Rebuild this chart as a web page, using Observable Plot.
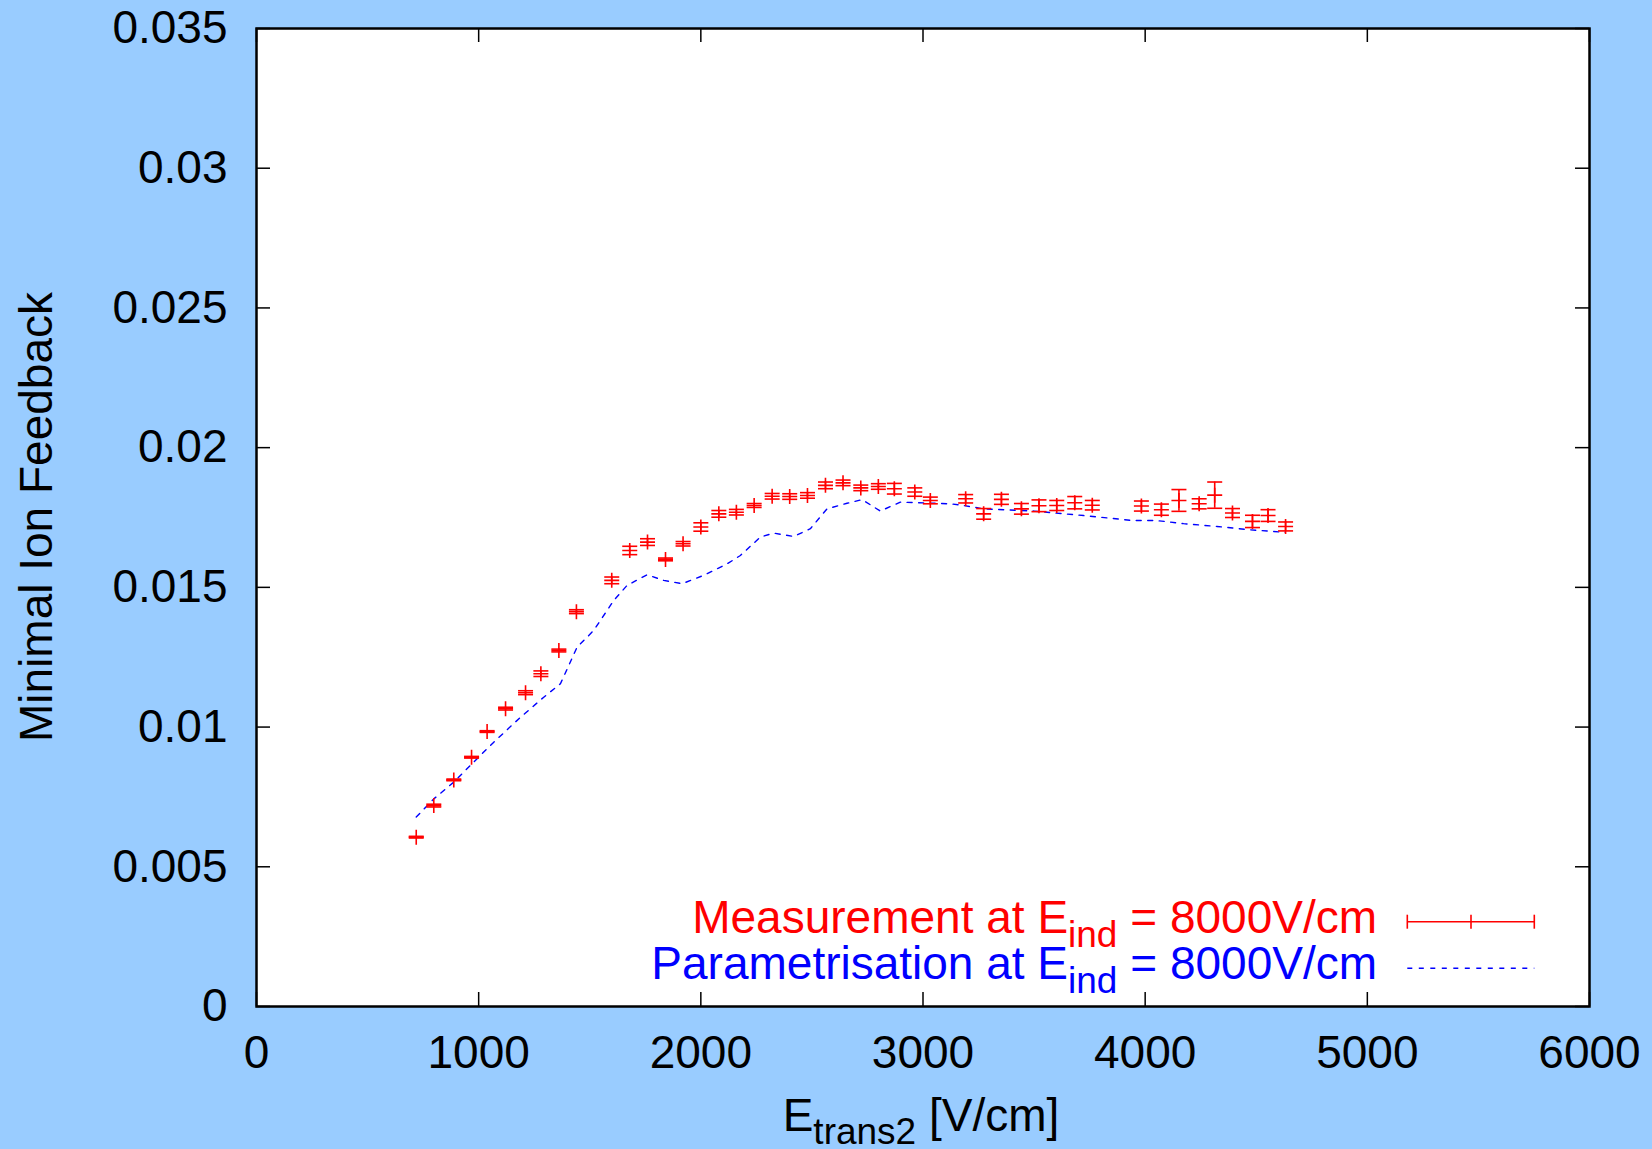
<!DOCTYPE html>
<html>
<head>
<meta charset="utf-8">
<script src="https://cdn.jsdelivr.net/npm/d3@7"></script>
<script src="https://cdn.jsdelivr.net/npm/@observablehq/plot@0.6"></script>
<style>
  html, body { margin: 0; padding: 0; background: #99ccff; }
  #chart { width: 1652px; height: 1149px; }
</style>
</head>
<body>
<div id="chart"></div>
<script>
// ---- data ----
const measX = [719, 798, 888, 968, 1038, 1121, 1211, 1280, 1361, 1440, 1599, 1680, 1760, 1841, 1920, 2000, 2081, 2160, 2240, 2321, 2400, 2480, 2561, 2640, 2720, 2799,
  2871, 2963, 3033, 3192, 3273, 3353, 3443, 3522, 3602, 3683, 3762, 3983, 4073, 4152, 4243, 4313, 4393, 4483, 4553, 4632];
const measY = [0.00606, 0.00719, 0.00811, 0.00892, 0.00984, 0.01066, 0.01123, 0.01191, 0.01274, 0.01413, 0.01525, 0.01632, 0.01662, 0.01600, 0.01656, 0.01716, 0.01763, 0.01769, 0.01793, 0.01826, 0.01825, 0.01829, 0.01865, 0.01874, 0.01856, 0.01861,
  0.01853, 0.01841, 0.01811, 0.01817, 0.01763, 0.01815, 0.01781, 0.01792, 0.01793, 0.01803, 0.01794, 0.01791, 0.01778, 0.01811, 0.01799, 0.01830, 0.01766, 0.01736, 0.01757, 0.01718];
const measErr = [0.00003, 0.00005, 0.00003, 0.00003, 0.00003, 0.00005, 0.00007, 0.00010, 0.00005, 0.00007, 0.00012, 0.00015, 0.00012, 0.00005, 0.00008, 0.00015, 0.00012, 0.00010, 0.00007, 0.00010, 0.00010, 0.00010, 0.00012, 0.00010, 0.00010, 0.00010,
  0.00019, 0.00015, 0.00012, 0.00015, 0.00019, 0.00018, 0.00019, 0.00021, 0.00018, 0.00022, 0.00017, 0.00018, 0.00020, 0.00039, 0.00018, 0.00047, 0.00016, 0.00022, 0.00021, 0.00016];

const paramX = [719, 798, 888, 993, 1068, 1188, 1293, 1368, 1443, 1518, 1608, 1668, 1758, 1833, 1916, 2013, 2118, 2178, 2268, 2328, 2418, 2493, 2568, 2658, 2726, 2808, 2898, 3123, 3183, 3273, 3498, 3723, 3948, 4053, 4173, 4323, 4473, 4631];
const paramY = [0.00678, 0.00743, 0.00803, 0.00887, 0.00946, 0.01035, 0.01107, 0.01155, 0.01286, 0.01346, 0.01453, 0.01507, 0.01545, 0.01525, 0.01513, 0.01543, 0.01584, 0.01614, 0.01680, 0.01694, 0.01682, 0.01710, 0.01781, 0.01801, 0.01814, 0.01773, 0.01805, 0.01799, 0.01793, 0.01781, 0.01773, 0.01757, 0.01739, 0.01739, 0.01728, 0.01718, 0.01706, 0.01697];

const xTicks = [0, 1000, 2000, 3000, 4000, 5000, 6000];
const yTicks = [0, 0.005, 0.01, 0.015, 0.02, 0.025, 0.03, 0.035];
const yTickLabels = ["0", "0.005", "0.01", "0.015", "0.02", "0.025", "0.03", "0.035"];

const xLabelMain = "E", xLabelSub = "trans2", xLabelRest = " [V/cm]";
const yLabel = "Minimal Ion Feedback";
const legMeas = ["Measurement at E", "ind", " = 8000V/cm"];
const legPar = ["Parametrisation at E", "ind", " = 8000V/cm"];

// ---- tables ----
const meas = measX.map((x, i) => ({x, y: measY[i], lo: measY[i] - measErr[i], hi: measY[i] + measErr[i]}));
const param = paramX.map((x, i) => ({x, y: paramY[i]}));

const capSymbol = {draw(ctx, size) { const r = Math.sqrt(size / Math.PI); ctx.moveTo(-r, 0); ctx.lineTo(r, 0); }};
const plusSymbol = {draw(ctx, size) { const r = Math.sqrt(size / Math.PI); ctx.moveTo(-r, 0); ctx.lineTo(r, 0); ctx.moveTo(0, -r); ctx.lineTo(0, r); }};

const W = 1652, H = 1149, mL = 256, mR = 63, mT = 28, mB = 143;
const innerW = W - mL - mR, innerH = H - mT - mB, tickLen = 14;
const font = "'Liberation Sans', Arial, Helvetica, sans-serif";
const FS = 46, SUB = 37;

const chart = Plot.plot({
  width: W, height: H,
  marginLeft: mL, marginRight: mR, marginTop: mT, marginBottom: mB,
  x: {domain: [0, 6000], axis: null},
  y: {domain: [0, 0.035], axis: null},
  style: {background: "transparent", fontFamily: font, fontSize: FS + "px", color: "black"},
  marks: [
    Plot.frame({fill: "white"}),
    Plot.line(param, {x: "x", y: "y", stroke: "#0000ff", strokeWidth: 1.4, strokeDasharray: "5,6.5"}),
    Plot.ruleX(meas, {x: "x", y1: "lo", y2: "hi", stroke: "#ff0000", strokeWidth: 1.6}),
    Plot.dot(meas, {x: "x", y: "lo", symbol: capSymbol, r: 7.5, fill: "none", stroke: "#ff0000", strokeWidth: 1.6}),
    Plot.dot(meas, {x: "x", y: "hi", symbol: capSymbol, r: 7.5, fill: "none", stroke: "#ff0000", strokeWidth: 1.6}),
    Plot.dot(meas, {x: "x", y: "y", symbol: plusSymbol, r: 7.5, fill: "none", stroke: "#ff0000", strokeWidth: 1.6}),
    Plot.tickX(xTicks, {x: d => d, insetTop: innerH - tickLen, stroke: "black", strokeWidth: 1.5}),
    Plot.tickX(xTicks, {x: d => d, insetBottom: innerH - tickLen, stroke: "black", strokeWidth: 1.5}),
    Plot.tickY(yTicks, {y: d => d, insetRight: innerW - tickLen, stroke: "black", strokeWidth: 1.5}),
    Plot.tickY(yTicks, {y: d => d, insetLeft: innerW - tickLen, stroke: "black", strokeWidth: 1.5}),
    Plot.frame({stroke: "black", strokeWidth: 2.5}),
    Plot.axisX(xTicks, {tickSize: 0, tickPadding: 29, fontSize: FS, label: null, tickFormat: d => String(d)}),
    Plot.axisY(yTicks, {tickSize: 0, tickPadding: 29, fontSize: FS, label: null, tickFormat: (d, i) => yTickLabels[yTicks.indexOf(d)]})
  ]
});
document.getElementById("chart").appendChild(chart);

// ---- axis titles and legend (text with subscripts) ----
const svg = d3.select(chart);
const g = svg.append("g").attr("font-family", font).attr("font-size", FS);

const xl = g.append("text").attr("x", 921).attr("y", 1131).attr("text-anchor", "middle").attr("fill", "black");
xl.append("tspan").text(xLabelMain);
xl.append("tspan").attr("font-size", SUB).attr("dy", 13).text(xLabelSub);
xl.append("tspan").attr("dy", -13).text(xLabelRest);

g.append("text").attr("transform", "translate(51.7,517) rotate(-90)").attr("text-anchor", "middle").attr("fill", "black").text(yLabel);

function legendText(parts, y, color) {
  const t = g.append("text").attr("x", 1377).attr("y", y).attr("text-anchor", "end").attr("fill", color);
  t.append("tspan").text(parts[0]);
  t.append("tspan").attr("font-size", SUB).attr("dy", 14).text(parts[1]);
  t.append("tspan").attr("dy", -14).text(parts[2]);
}
legendText(legMeas, 932.5, "#ff0000");
legendText(legPar, 979, "#0000ff");

const lg = svg.append("g");
const ly1 = 921.7, ly2 = 968.3, lx1 = 1407.3, lx2 = 1534.3, lxm = 1471;
lg.append("line").attr("x1", lx1).attr("x2", lx2).attr("y1", ly1).attr("y2", ly1).attr("stroke", "#ff0000").attr("stroke-width", 1.6);
[lx1, lx2, lxm].forEach(x => lg.append("line").attr("x1", x).attr("x2", x).attr("y1", ly1 - 7).attr("y2", ly1 + 7).attr("stroke", "#ff0000").attr("stroke-width", 1.6));
lg.append("line").attr("x1", lx1).attr("x2", lx2).attr("y1", ly2).attr("y2", ly2).attr("stroke", "#0000ff").attr("stroke-width", 1.4).attr("stroke-dasharray", "5,6.5");
</script>
</body>
</html>
